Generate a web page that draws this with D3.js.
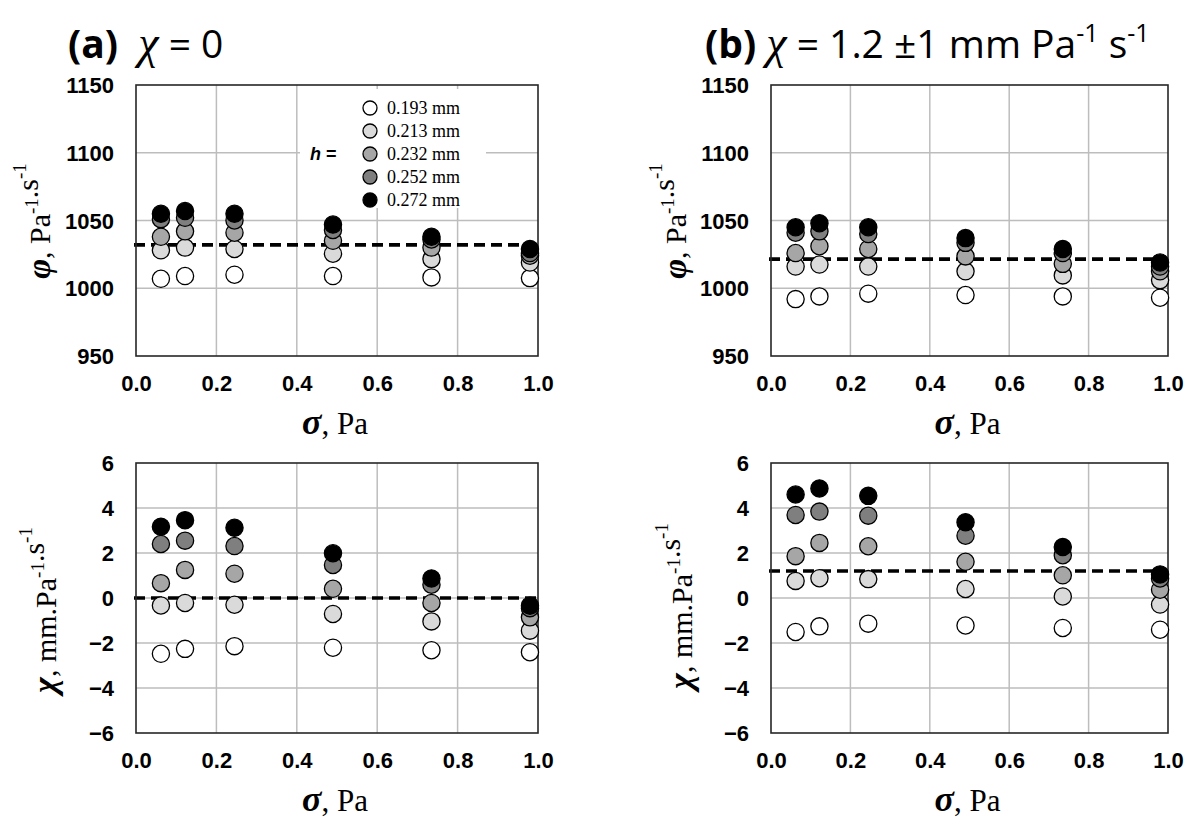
<!DOCTYPE html>
<html>
<head>
<meta charset="utf-8">
<script src="https://cdn.jsdelivr.net/npm/d3@7/dist/d3.min.js"></script>
<style>
  html, body { margin: 0; padding: 0; background: #fff; }
  svg { display: block; }
</style>
</head>
<body>
<svg id="chart" width="1200" height="828"></svg>
<script>
// ---------------- DATA ----------------
const sigma = [0.062, 0.122, 0.245, 0.49, 0.735, 0.98];
const hLabels = ["0.193 mm", "0.213 mm", "0.232 mm", "0.252 mm", "0.272 mm"];
const xTicks = [0, 0.2, 0.4, 0.6, 0.8, 1.0];
const phiTicks = [950, 1000, 1050, 1100, 1150];
const chiTicks = [-6, -4, -2, 0, 2, 4, 6];

// (a) chi = 0 : phi
const phiA_193 = [1007, 1009, 1010, 1009, 1008, 1007.5];
const phiA_213 = [1028, 1030, 1029, 1025.5, 1021.5, 1019];
const phiA_232 = [1038, 1042, 1041, 1035, 1030, 1024];
const phiA_252 = [1051, 1052, 1050, 1043, 1036, 1026];
const phiA_272 = [1055, 1057, 1055, 1047, 1038, 1029];
const phiA_mean = 1032;

// (b) chi = 1.2 : phi
const phiB_193 = [992, 994, 996, 995, 994, 993];
const phiB_213 = [1016, 1017.5, 1016, 1012.5, 1009.5, 1006];
const phiB_232 = [1026, 1031, 1029, 1023.5, 1018, 1012.5];
const phiB_252 = [1041, 1042, 1040, 1033.5, 1026, 1016];
const phiB_272 = [1045, 1048, 1045, 1037, 1029, 1019];
const phiB_mean = 1021.5;

// (a) chi
const chiA_193 = [-2.48, -2.26, -2.14, -2.21, -2.32, -2.41];
const chiA_213 = [-0.33, -0.22, -0.30, -0.71, -1.04, -1.45];
const chiA_232 = [0.66, 1.25, 1.08, 0.41, -0.22, -0.86];
const chiA_252 = [2.40, 2.55, 2.31, 1.47, 0.59, -0.45];
const chiA_272 = [3.17, 3.46, 3.12, 1.99, 0.87, -0.34];
const chiA_mean = 0;

// (b) chi
const chiB_193 = [-1.51, -1.26, -1.14, -1.22, -1.33, -1.41];
const chiB_213 = [0.76, 0.88, 0.84, 0.40, 0.07, -0.29];
const chiB_232 = [1.86, 2.45, 2.30, 1.61, 1.01, 0.37];
const chiB_252 = [3.69, 3.84, 3.66, 2.77, 1.90, 0.87];
const chiB_272 = [4.60, 4.87, 4.54, 3.37, 2.27, 1.05];
const chiB_mean = 1.2;

const markerFills = ["#ffffff", "#dadada", "#a6a6a6", "#7f7f7f", "#000000"];

// ---------------- DRAW ----------------
const svg = d3.select("#chart");
const SANS = "'Liberation Sans', Arial, sans-serif";
const SERIF = "'Liberation Serif', 'Times New Roman', serif";
const TITLE = "'Open Sans', 'Liberation Sans', sans-serif";

function panel(opts) {
  const { x0, x1, y0, y1, domain, ticks, series, mean, yTitle } = opts;
  const g = svg.append("g");
  const x = d3.scaleLinear().domain([0, 1]).range([x0, x1]);
  const y = d3.scaleLinear().domain(domain).range([y1, y0]);

  // grid
  g.append("g").selectAll("line.v").data(xTicks.slice(1, -1)).join("line")
    .attr("x1", d => x(d)).attr("x2", d => x(d)).attr("y1", y0).attr("y2", y1)
    .attr("stroke", "#bdbdbd").attr("stroke-width", 1.5);
  g.append("g").selectAll("line.h").data(ticks.slice(1, -1)).join("line")
    .attr("x1", x0).attr("x2", x1).attr("y1", d => y(d)).attr("y2", d => y(d))
    .attr("stroke", "#bdbdbd").attr("stroke-width", 1.5);

  if (opts.legend) opts.legend(g, x, y);

  // dashed mean line
  g.append("line")
    .attr("x1", x0 - 2).attr("x2", x1).attr("y1", y(mean)).attr("y2", y(mean))
    .attr("stroke", "#000").attr("stroke-width", 3.6).attr("stroke-dasharray", "11,6");

  // border
  g.append("rect").attr("x", x0).attr("y", y0).attr("width", x1 - x0).attr("height", y1 - y0)
    .attr("fill", "none").attr("stroke", "#262626").attr("stroke-width", 1.6);

  // markers
  series.forEach((vals, i) => {
    g.append("g").selectAll("circle").data(vals).join("circle")
      .attr("cx", (d, j) => x(sigma[j])).attr("cy", d => y(d)).attr("r", 8.6)
      .attr("fill", markerFills[i]).attr("stroke", "#000").attr("stroke-width", 1.3);
  });

  // axes
  const xa = g.append("g").attr("transform", `translate(0,${y1 + 28})`)
    .call(d3.axisBottom(x).tickValues(xTicks).tickFormat(d3.format(".1f")).tickSize(0));
  xa.select(".domain").remove();
  xa.selectAll("text").attr("font-family", SANS).attr("font-weight", "bold")
    .attr("font-size", 22).attr("fill", "#000").attr("dy", "0.32em").attr("y", 0);

  const ya = g.append("g").attr("transform", `translate(${x0 - 22},0)`)
    .call(d3.axisLeft(y).tickValues(ticks).tickFormat(d3.format("d")).tickSize(0));
  ya.select(".domain").remove();
  ya.selectAll("text").attr("font-family", SANS).attr("font-weight", "bold")
    .attr("font-size", 22).attr("fill", "#000").attr("x", 0).attr("dy", "0.35em");

  // x title
  const xt = g.append("text").attr("x", (x0 + x1) / 2 - 2).attr("y", y1 + 78)
    .attr("text-anchor", "middle").attr("font-family", SERIF).attr("font-size", 31);
  xt.append("tspan").attr("font-weight", "bold").attr("font-style", "italic").attr("font-size", 36).text("σ");
  xt.append("tspan").text(", Pa");

  // y title
  const yt = g.append("text")
    .attr("transform", `translate(${opts.yTitleX},${opts.yTitleY}) rotate(-90)`)
    .attr("text-anchor", "middle").attr("font-family", SERIF).attr("font-size", 30);
  yTitle(yt);
}

function sup(t, s) {
  t.append("tspan").attr("font-size", 19).attr("dy", -12).text(s);
  t.append("tspan").attr("font-size", 30).attr("dy", 12).text("");
}
function phiTitle(t) {
  t.append("tspan").attr("font-weight", "bold").attr("font-style", "italic").attr("font-size", 34).text("φ");
  t.append("tspan").text(", Pa");
  sup(t, "-1");
  t.append("tspan").text(".s");
  sup(t, "-1");
}
function chiTitle(t) {
  t.append("tspan").attr("font-weight", "bold").attr("font-style", "italic").attr("font-size", 34).text("χ");
  t.append("tspan").text(", mm.Pa");
  sup(t, "-1");
  t.append("tspan").text(".s");
  sup(t, "-1");
}

function legend(g, x, y) {
  g.append("rect").attr("x", 300).attr("y", 89).attr("width", 186).attr("height", 119).attr("fill", "#fff");
  const ly = d3.scaleLinear().domain([0, 4]).range([108, 200]);
  hLabels.forEach((lab, i) => {
    g.append("circle").attr("cx", 370).attr("cy", ly(i)).attr("r", 7)
      .attr("fill", markerFills[i]).attr("stroke", "#000").attr("stroke-width", 1.3);
    g.append("text").attr("x", 387).attr("y", ly(i)).attr("dy", "0.35em")
      .attr("font-family", SERIF).attr("font-size", 18).text(lab);
  });
  const ht = g.append("text").attr("x", 310).attr("y", ly(2)).attr("dy", "0.35em")
    .attr("font-family", SANS).attr("font-weight", "bold").attr("font-size", 18);
  ht.append("tspan").attr("font-style", "italic").text("h");
  ht.append("tspan").text(" =");
}

panel({ x0: 136, x1: 538, y0: 85, y1: 356, domain: [950, 1150], ticks: phiTicks,
  series: [phiA_193, phiA_213, phiA_232, phiA_252, phiA_272], mean: phiA_mean,
  yTitle: phiTitle, yTitleX: 50, yTitleY: 221, legend: legend });
panel({ x0: 771, x1: 1168, y0: 85, y1: 356, domain: [950, 1150], ticks: phiTicks,
  series: [phiB_193, phiB_213, phiB_232, phiB_252, phiB_272], mean: phiB_mean,
  yTitle: phiTitle, yTitleX: 686, yTitleY: 221 });
panel({ x0: 136, x1: 538, y0: 463, y1: 733, domain: [-6, 6], ticks: chiTicks,
  series: [chiA_193, chiA_213, chiA_232, chiA_252, chiA_272], mean: chiA_mean,
  yTitle: chiTitle, yTitleX: 56, yTitleY: 610 });
panel({ x0: 771, x1: 1168, y0: 463, y1: 733, domain: [-6, 6], ticks: chiTicks,
  series: [chiB_193, chiB_213, chiB_232, chiB_252, chiB_272], mean: chiB_mean,
  yTitle: chiTitle, yTitleX: 692, yTitleY: 606 });

// panel titles
function title(xPos, parts) {
  const t = svg.append("text").attr("x", xPos).attr("y", 58).attr("font-size", 39).attr("font-family", TITLE);
  parts(t);
}
title(68, t => {
  t.append("tspan").attr("font-weight", "bold").text("(a)");
  t.append("tspan").text("\u00a0 ");
  t.append("tspan").attr("font-family", SERIF).attr("font-style", "italic").attr("font-size", 46).text("χ");
  t.append("tspan").text(" = 0");
});
title(705, t => {
  t.append("tspan").attr("font-weight", "bold").text("(b)");
  t.append("tspan").text(" ");
  t.append("tspan").attr("font-family", SERIF).attr("font-style", "italic").attr("font-size", 46).text("χ");
  t.append("tspan").text(" = 1.2 ±1 mm Pa");
  t.append("tspan").attr("font-size", 25).attr("dy", -16).text("-1");
  t.append("tspan").attr("dy", 16).text(" s");
  t.append("tspan").attr("font-size", 25).attr("dy", -16).text("-1");
});
</script>
</body>
</html>
